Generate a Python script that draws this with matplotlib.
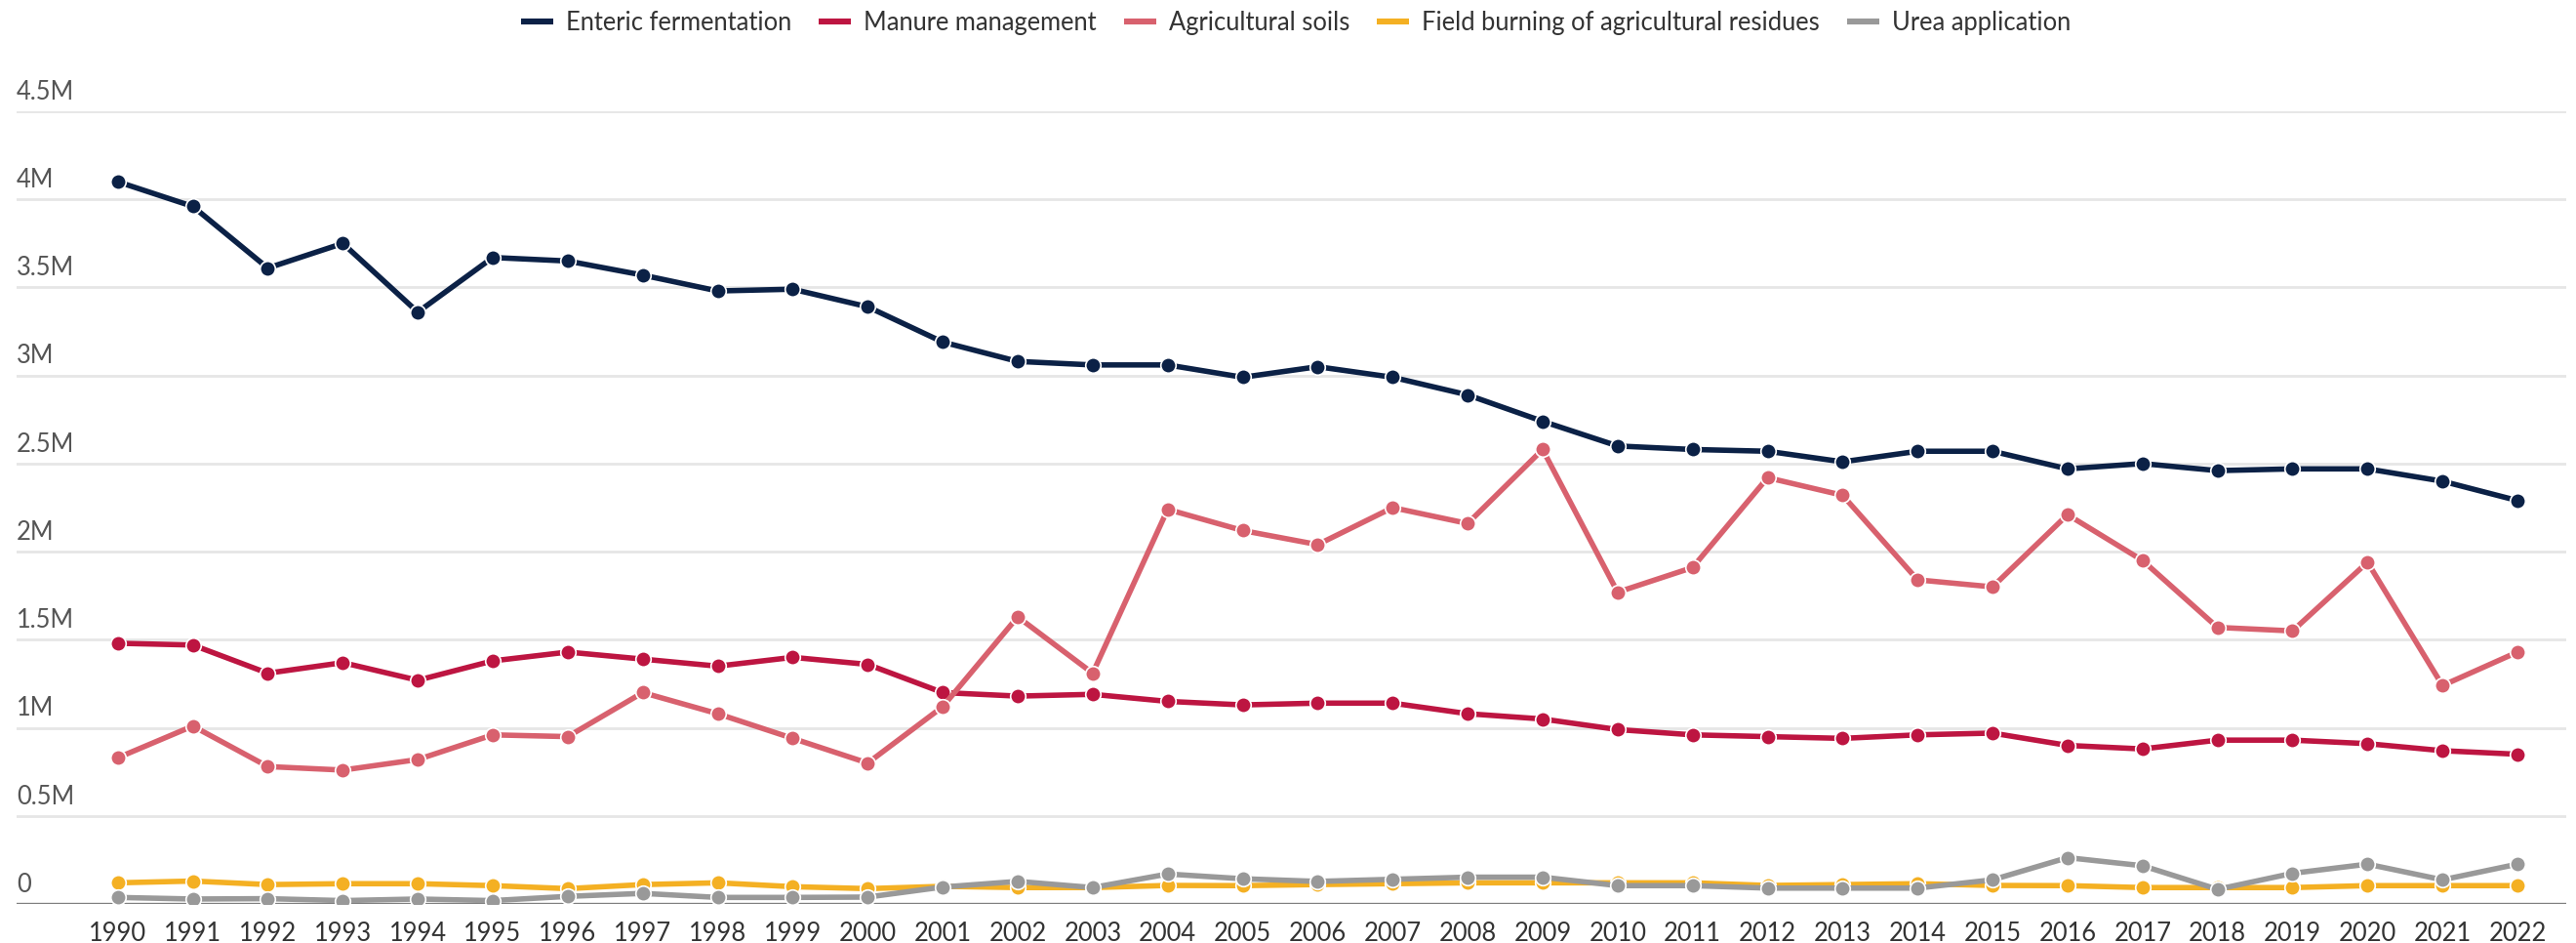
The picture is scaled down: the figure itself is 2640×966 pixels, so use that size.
import matplotlib
matplotlib.use('Agg')
import matplotlib.pyplot as plt
from matplotlib.lines import Line2D
from matplotlib.transforms import blended_transform_factory

plt.rcParams['font.family'] = ['Lato', 'DejaVu Sans']

years = list(range(1990, 2023))

enteric = [4.10, 3.96, 3.61, 3.75, 3.36, 3.67, 3.65, 3.57, 3.48, 3.49, 3.39,
           3.19, 3.08, 3.06, 3.06, 2.99, 3.05, 2.99, 2.89, 2.74, 2.60, 2.58,
           2.57, 2.51, 2.57, 2.57, 2.47, 2.50, 2.46, 2.47, 2.47, 2.40, 2.29]
manure = [1.48, 1.47, 1.31, 1.37, 1.27, 1.38, 1.43, 1.39, 1.35, 1.40, 1.36,
          1.20, 1.18, 1.19, 1.15, 1.13, 1.14, 1.14, 1.08, 1.05, 0.99, 0.96,
          0.95, 0.94, 0.96, 0.97, 0.90, 0.88, 0.93, 0.93, 0.91, 0.87, 0.85]
soils = [0.83, 1.01, 0.78, 0.76, 0.82, 0.96, 0.95, 1.20, 1.08, 0.94, 0.80,
         1.12, 1.63, 1.31, 2.24, 2.12, 2.04, 2.25, 2.16, 2.58, 1.77, 1.91,
         2.42, 2.32, 1.84, 1.80, 2.21, 1.95, 1.57, 1.55, 1.94, 1.24, 1.43]
burning = [0.120, 0.130, 0.110, 0.115, 0.115, 0.104, 0.087, 0.110, 0.120, 0.098, 0.087,
           0.100, 0.093, 0.093, 0.105, 0.104, 0.110, 0.115, 0.120, 0.120, 0.120, 0.120,
           0.105, 0.110, 0.115, 0.105, 0.104, 0.093, 0.093, 0.093, 0.104, 0.104, 0.104]
urea = [0.037, 0.028, 0.030, 0.019, 0.028, 0.019, 0.043, 0.060, 0.037, 0.037, 0.039,
        0.096, 0.128, 0.093, 0.170, 0.143, 0.128, 0.140, 0.152, 0.152, 0.104, 0.104,
        0.090, 0.090, 0.090, 0.137, 0.263, 0.217, 0.083, 0.174, 0.226, 0.137, 0.226]

names = ['Enteric fermentation', 'Manure management', 'Agricultural soils',
         'Field burning of agricultural residues', 'Urea application']
colors = ['#0b2146', '#bd1541', '#d8616e', '#f4b023', '#999999']
series = [enteric, manure, soils, burning, urea]

y_ticks = [0, 0.5, 1, 1.5, 2, 2.5, 3, 3.5, 4, 4.5]
y_labels = ['0', '0.5M', '1M', '1.5M', '2M', '2.5M', '3M', '3.5M', '4M', '4.5M']

fig = plt.figure(figsize=(13.2, 4.83), dpi=200)
ax = fig.add_axes([17/2640, 40/966, 2613/2640, 812/966])

for vals, c in zip(series, colors):
    ax.plot(years, [v * 1e6 for v in vals], color=c, lw=2.0, marker='o', ms=5.6,
            mec='white', mew=0.6, solid_joinstyle='round', zorder=3)

ax.set_xlim(1988.65, 2022.65)
ax.set_ylim(0, 4.5e6)

for t in y_ticks[1:]:
    ax.axhline(t * 1e6, color='#e6e6e6', lw=1.0, zorder=1)
ax.axhline(0, color='#7f7f7f', lw=1.2, zorder=2)

trans = blended_transform_factory(ax.transAxes, ax.transData)
for t, lab in zip(y_ticks, y_labels):
    ax.text(0, t * 1e6 + 0.04e6, lab, transform=trans, ha='left', va='bottom',
            fontsize=9.2, color='#555555')

ax.set_yticks([])
ax.set_xticks(years)
ax.set_xticklabels([str(y) for y in years], fontsize=9.2, color='#333333')
ax.tick_params(axis='x', length=0, pad=6.5)
for s in ax.spines.values():
    s.set_visible(False)

handles = [Line2D([0], [0], color=c, lw=2.2, solid_capstyle='butt') for c in colors]
fig.legend(handles, names, loc='upper center', bbox_to_anchor=(0.503, 1.012), ncol=5,
           frameon=False, fontsize=9.2, handlelength=1.3, handletextpad=0.5,
           columnspacing=1.1, labelcolor='#333333')

fig.savefig('out.png', dpi=200)
